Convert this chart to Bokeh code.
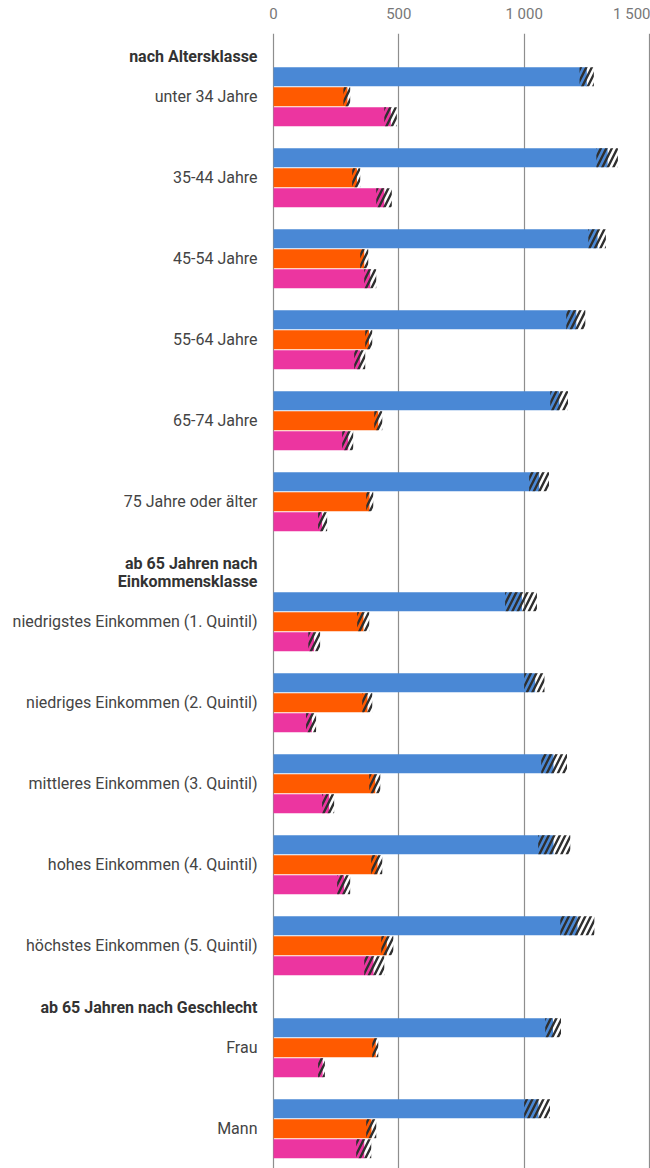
from bokeh.plotting import figure
from bokeh.models import Range1d, FixedTicker, ColumnDataSource
from bokeh.core.properties import value
from bokeh.embed import file_html
from bokeh.resources import INLINE

# ---------------- data ----------------
GROUP_TITLES = ["nach Altersklasse", "ab 65 Jahren nach\nEinkommensklasse", "ab 65 Jahren nach Geschlecht"]
CATEGORIES = ["unter 34 Jahre", "35-44 Jahre", "45-54 Jahre", "55-64 Jahre", "65-74 Jahre",
              "75 Jahre oder älter",
              "niedrigstes Einkommen (1. Quintil)", "niedriges Einkommen (2. Quintil)",
              "mittleres Einkommen (3. Quintil)", "hohes Einkommen (4. Quintil)",
              "höchstes Einkommen (5. Quintil)",
              "Frau", "Mann"]
CATEGORY_GROUP = [0, 0, 0, 0, 0, 0, 1, 1, 1, 1, 1, 2, 2]

SERIES = ["blau", "orange", "magenta"]
COLORS = ["#4a88d5", "#ff5a00", "#ec35a0"]

blau_value = [1250, 1333, 1293, 1208, 1140, 1060, 991, 1044, 1117, 1117, 1213, 1115, 1057]
blau_low   = [1221, 1288, 1256, 1168, 1104, 1020, 924, 1000, 1068, 1056, 1144, 1084, 1000]
blau_high  = [1278, 1374, 1326, 1244, 1175, 1099, 1051, 1081, 1171, 1184, 1280, 1147, 1103]

orange_value = [295, 333, 362, 381, 418, 383, 359, 375, 406, 415, 452, 408, 391]
orange_low   = [279, 314, 346, 366, 402, 370, 334, 354, 382, 390, 430, 394, 370]
orange_high  = [306, 346, 378, 394, 434, 398, 382, 394, 426, 434, 478, 418, 410]

magenta_value = [468, 442, 386, 346, 298, 194, 162, 153, 222, 282, 399, 196, 362]
magenta_low   = [442, 410, 362, 322, 274, 178, 139, 130, 194, 254, 362, 178, 330]
magenta_high  = [492, 472, 410, 366, 318, 214, 186, 170, 242, 306, 442, 205, 390]

VALUES = [blau_value, orange_value, magenta_value]
LOWS = [blau_low, orange_low, magenta_low]
HIGHS = [blau_high, orange_high, magenta_high]

TICKS = [0, 500, 1000, 1500]
TICK_LABELS = {0: "0", 500: "500", 1000: "1 000", 1500: "1 500"}

# ---------------- layout (screen-pixel based vertical units) ----------------
START = 12.7
BAR_H = 19
SLOT = 20
GROUP_GAP = 21
HEADER_LINE = 18
HEADER_PAD = 3
HEADER_TO_BAR = 11
TOP_BORDER = 33
FRAME_H = 1168 - TOP_BORDER

block_tops = []
header_y = []
header_text = []
cursor = START
prev_group = None
for i, g in enumerate(CATEGORY_GROUP):
    if g != prev_group:
        lines = GROUP_TITLES[g].count("\n") + 1
        if prev_group is not None:
            cursor += GROUP_GAP
        cursor += HEADER_LINE * lines + HEADER_PAD if prev_group is not None else 21
        last_center = cursor - HEADER_TO_BAR
        first_center = last_center - HEADER_LINE * (lines - 1)
        header_y.append((first_center + last_center) / 2)
        header_text.append(GROUP_TITLES[g])
        prev_group = g
    elif i > 0:
        cursor += GROUP_GAP
    block_tops.append(cursor)
    cursor += SLOT * len(SERIES)

p = figure(width=650, height=1168,
           x_range=Range1d(-1089, 1504), y_range=Range1d(FRAME_H, 0),
           x_axis_location="above", y_axis_location=None,
           output_backend="svg", toolbar_location=None,
           min_border_left=0, min_border_right=0, min_border_bottom=0,
           min_border_top=TOP_BORDER)
p.outline_line_color = None
p.background_fill_color = "white"
p.border_fill_color = "white"

p.xgrid.ticker = FixedTicker(ticks=TICKS)
p.xgrid.grid_line_color = "#8e8e8e"
p.xgrid.grid_line_width = 1.2
p.ygrid.visible = False

ax = p.xaxis[0]
ax.ticker = FixedTicker(ticks=TICKS)
ax.major_label_overrides = TICK_LABELS
ax.axis_line_color = None
ax.major_tick_line_color = None
ax.minor_tick_line_color = None
ax.major_tick_out = 0
ax.major_tick_in = 0
ax.major_label_standoff = 11
ax.major_label_text_font = "Roboto"
ax.major_label_text_font_size = "15px"
ax.major_label_text_color = "#777777"

for s, name in enumerate(SERIES):
    ys = [t + s * SLOT + BAR_H / 2 for t in block_tops]
    src = ColumnDataSource(dict(y=ys, v=VALUES[s], lo=LOWS[s], hi=HIGHS[s]))
    p.hbar(y="y", left=0, right="v", height=BAR_H, source=src,
           fill_color=COLORS[s], line_color=None)
    p.hbar(y="y", left="lo", right="hi", height=BAR_H, source=src,
           fill_alpha=0, line_color=None,
           hatch_pattern="/", hatch_color="#2f2f2f", hatch_weight=2.4, hatch_scale=11)

label_src = ColumnDataSource(dict(y=[t + SLOT + BAR_H / 2 for t in block_tops],
                                  x=[0] * len(CATEGORIES), text=CATEGORIES))
p.text(x="x", y="y", text="text", source=label_src, x_offset=-16,
       text_align="right", text_baseline="middle",
       text_font=value("Roboto"), text_font_size="16px", text_color="#444444")

head_src = ColumnDataSource(dict(y=header_y, x=[0] * len(header_text), text=header_text))
p.text(x="x", y="y", text="text", source=head_src, x_offset=-16,
       text_align="right", text_baseline="middle", text_line_height=0.95,
       text_font=value("Roboto"), text_font_size="16px", text_font_style="bold",
       text_color="#333333")

open("out.html", "w").write(file_html(p, INLINE))
